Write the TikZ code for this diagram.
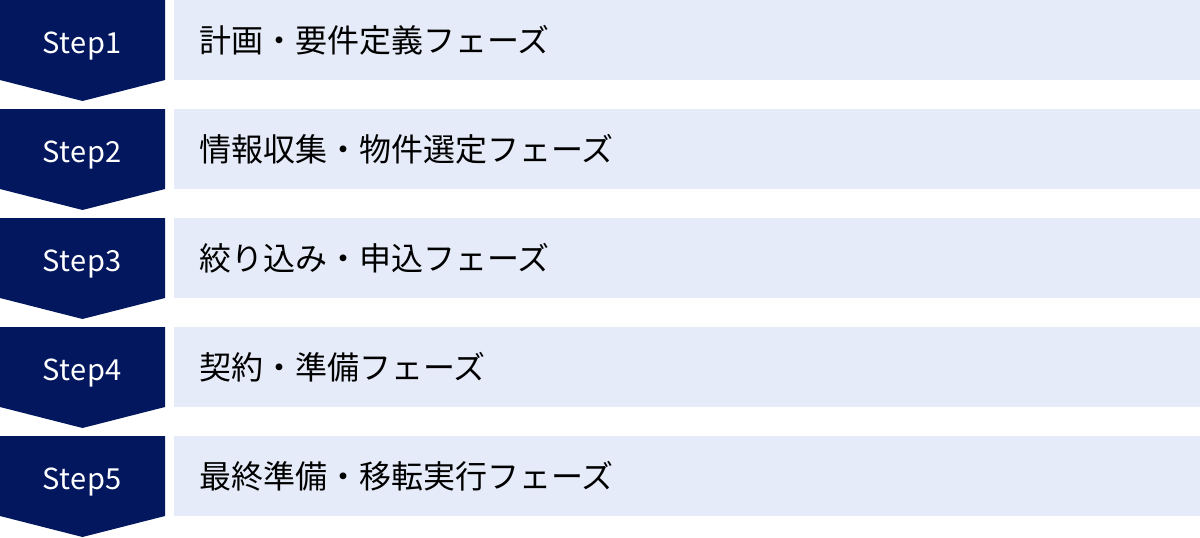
\documentclass[tikz,border=0pt]{standalone}
\usepackage{fontspec}
\setmainfont{Noto Sans CJK JP}
\newfontfamily\stepfont[LetterSpace=2]{Noto Sans CJK JP}
\definecolor{navy}{HTML}{03175E}
\definecolor{pale}{HTML}{E5EBF8}
\tikzset{
  stepshape/.style={fill=navy, draw=none},
  phasebox/.style={fill=pale, draw=none},
  steplabel/.style={text=white, font=\stepfont\fontsize{29}{29}\selectfont, inner sep=0pt, anchor=base},
  phaselabel/.style={text=black, font=\fontsize{32}{32}\selectfont, inner sep=0pt, anchor=base west}
}
\begin{document}
\begin{tikzpicture}[x=1pt,y=-1pt]
\useasboundingbox (0,0) rectangle (1200,538);
\foreach \i/\lab in {1/計画・要件定義フェーズ,2/情報収集・物件選定フェーズ,3/絞り込み・申込フェーズ,4/契約・準備フェーズ,5/最終準備・移転実行フェーズ}{
  \pgfmathsetmacro\yy{109*(\i-1)}
  \fill[stepshape] (0,\yy) -- (165,\yy) -- (165,\yy+80) -- (82.5,\yy+101) -- (0,\yy+80) -- cycle;
  \fill[phasebox] (174,\yy) rectangle (1200,\yy+80);
  \node[steplabel] (step\i) at (82,\yy+53) {Step\i};
  \node[phaselabel] (phase\i) at (199,\yy+52) {\lab};
}
\end{tikzpicture}
\end{document}
